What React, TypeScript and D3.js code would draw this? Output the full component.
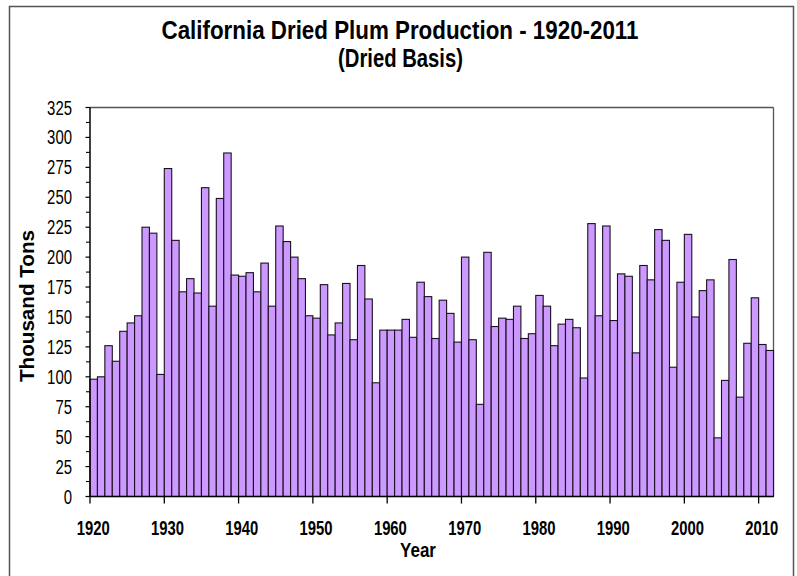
import React from "react";
import * as d3 from "d3";

const years: number[] = d3.range(1920, 2012);
const production: number[] = [
  98, 100, 126, 113, 138, 145, 151, 225, 220, 102,
  274, 214, 171, 182, 170, 258, 159, 249, 287, 185,
  184, 187, 171, 195, 159, 226, 213, 200, 182, 151,
  149, 177, 135, 145, 178, 131, 193, 165, 95, 139,
  139, 139, 148, 133, 179, 167, 132, 164, 153, 129,
  200, 131, 77, 204, 142, 149, 148, 159, 132, 136,
  168, 159, 126, 144, 148, 141, 99, 228, 151, 226,
  147, 186, 184, 120, 193, 181, 223, 214, 108, 179,
  219, 150, 172, 181, 49, 97, 198, 83, 128, 166,
  127, 122,
];
const yTicks: number[] = d3.range(0, 326, 25);
const yMinorTicks: number[] = d3.range(12.5, 325, 25);
const xTickYears: number[] = d3.range(1920, 2011, 10);
const titleLines: string[] = [
  "California Dried Plum Production - 1920-2011",
  "(Dried Basis)",
];
const xTitle = "Year";
const yTitle = "Thousand Tons";

const W = 797;
const H = 576;
const left = 90;
const right = 773.5;
const top = 107.5;
const bottom = 496.5;
const FONT = "'Liberation Sans Narrow', 'Arial Narrow', 'Liberation Sans', Arial, sans-serif";

export default function App() {
  const x = d3.scaleBand<number>().domain(years).range([left, right]).padding(0);
  const y = d3.scaleLinear().domain([0, 325]).range([bottom, top]);
  const bw = x.bandwidth();

  return (
    <svg
      width={W}
      height={H}
      viewBox={`0 0 ${W} ${H}`}
      style={{ position: "absolute", left: 0, top: 0, background: "#fff" }}
      fontFamily={FONT}
    >
      <rect x={0} y={0} width={W} height={H} fill="#fff" />
      {/* outer frame */}
      <rect x={9.5} y={6.5} width={784} height={620} fill="none" stroke="#555" strokeWidth={1.5} />

      {/* title */}
      <text x={400} y={39} textAnchor="middle" fontSize={26.5} fontWeight="bold" textLength={477} lengthAdjust="spacingAndGlyphs" fill="#000">
        {titleLines[0]}
      </text>
      <text x={400.5} y={67} textAnchor="middle" fontSize={26.5} fontWeight="bold" textLength={125} lengthAdjust="spacingAndGlyphs" fill="#000">
        {titleLines[1]}
      </text>

      {/* plot border top/right */}
      <line x1={left} x2={right} y1={top} y2={top} stroke="#555" strokeWidth={1.3} />
      <line x1={right} x2={right} y1={top} y2={bottom} stroke="#555" strokeWidth={1.3} />

      {/* bars */}
      {years.map((yr, i) => (
        <rect
          key={yr}
          x={x(yr)!}
          y={y(production[i])}
          width={bw}
          height={bottom - y(production[i])}
          fill="#CC99FF"
          stroke="#1a1020"
          strokeWidth={1.1}
        />
      ))}

      {/* y axis */}
      <line x1={left} x2={left} y1={top} y2={bottom} stroke="#000" strokeWidth={1.5} />
      {yTicks.map((t) => {
        const s = String(t);
        return (
          <g key={t}>
            <line x1={left - 4.5} x2={left} y1={y(t)} y2={y(t)} stroke="#000" strokeWidth={1.2} />
            <text
              x={72}
              y={y(t) + 7}
              textAnchor="end"
              fontSize={19.5}
              textLength={s.length * 8.3}
              lengthAdjust="spacingAndGlyphs"
              fill="#000"
            >
              {s}
            </text>
          </g>
        );
      })}
      {yMinorTicks.map((t) => (
        <line key={t} x1={left - 4} x2={left} y1={y(t)} y2={y(t)} stroke="#000" strokeWidth={1.1} />
      ))}

      {/* x axis */}
      <line x1={left} x2={right} y1={bottom} y2={bottom} stroke="#000" strokeWidth={1.5} />
      {xTickYears.map((yr) => (
        <g key={yr}>
          <line x1={x(yr)!} x2={x(yr)!} y1={bottom} y2={bottom + 7} stroke="#000" strokeWidth={1.3} />
          <text
            x={x(yr)! + bw / 2 - 0.5}
            y={535}
            textAnchor="middle"
            fontSize={19.5}
            fontWeight="bold"
            textLength={33}
            lengthAdjust="spacingAndGlyphs"
            fill="#000"
          >
            {yr}
          </text>
        </g>
      ))}

      {/* axis titles */}
      <text x={418} y={557} textAnchor="middle" fontSize={19.5} fontWeight="bold" textLength={36} lengthAdjust="spacingAndGlyphs" fill="#000">
        {xTitle}
      </text>
      <text
        transform={`translate(34, 306) rotate(-90)`}
        textAnchor="middle"
        fontSize={19.5}
        fontWeight="bold"
        textLength={152}
        lengthAdjust="spacingAndGlyphs"
        fill="#000"
      >
        {yTitle}
      </text>
    </svg>
  );
}
